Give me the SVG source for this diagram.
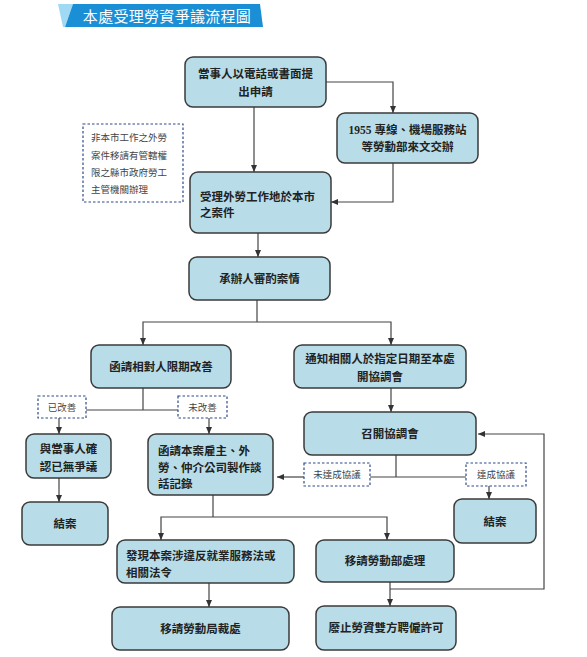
<svg xmlns="http://www.w3.org/2000/svg" width="587" height="657" viewBox="0 0 587 657">
<defs>
<marker id="ah" markerUnits="userSpaceOnUse" markerWidth="8" markerHeight="7" refX="7" refY="3" orient="auto">
<path d="M0,0 L7,3 L0,6 z" fill="#333"/>
</marker>
<style>
.n{fill:#b8dde8;stroke:#3a3a3a;stroke-width:1.5}
.t{font-family:"Noto Sans CJK TC","Noto Sans CJK SC",sans-serif;font-size:11.5px;font-weight:bold;fill:#222}
.c{text-anchor:middle}
.d{fill:#fff;stroke:#2d4a8a;stroke-width:1.2;stroke-dasharray:2.5,2}
.s{font-family:"Noto Sans CJK TC","Noto Sans CJK SC",sans-serif;font-size:9.5px;fill:#444}
.k{fill:none;stroke:#444;stroke-width:1.2}
.a{marker-end:url(#ah)}
</style>
</defs>
<rect width="587" height="657" fill="#fff"/>
<g id="title">
<polygon points="58,4 73,4 65,27 63,27" fill="#9fd9f4"/>
<polygon points="73,4 260,4 263,27 65,27" fill="#1a8fd6"/>
<text x="167" y="21.5" text-anchor="middle" font-family="'Noto Sans CJK TC','Noto Sans CJK SC',sans-serif" font-size="15" fill="#fff" letter-spacing="0.3">本處受理勞資爭議流程圖</text>
</g>
<g id="connectors">
<polyline class="k a" points="326,82 393,82 393,113"/>
<polyline class="k a" points="254,107 254,172"/>
<polyline class="k a" points="393,163 393,202 331,202"/>
<polyline class="k a" points="258,233 258,257"/>
<polyline class="k" points="257,300 257,322"/>
<polyline class="k a" points="257,322 143,322 143,345"/>
<polyline class="k a" points="257,322 391,322 391,345"/>
<polyline class="k" points="143,388 143,410"/>
<polyline class="k" points="86,410 178,410"/>
<polyline class="k a" points="59,418 59,434"/>
<polyline class="k a" points="209,418 209,434"/>
<polyline class="k a" points="59,478 59,502"/>
<polyline class="k a" points="391,388 391,412"/>
<polyline class="k" points="396,455 396,477"/>
<polyline class="k" points="370,477 466,477"/>
<polyline class="k a" points="304,477 277,477"/>
<polyline class="k a" points="489,486 489,499"/>
<polyline class="k" points="213,495 213,517"/>
<polyline class="k a" points="213,517 161,517 161,540"/>
<polyline class="k a" points="213,517 387,517 387,540"/>
<polyline class="k a" points="209,583 209,607"/>
<polyline class="k a" points="390,582 390,606"/>
<polyline class="k a" points="390,589 544,589 544,434 478,434"/>
</g>
<g id="n1">
<rect class="n" x="185" y="57" width="141" height="50" rx="8"/>
<text class="t c" x="255.5" y="78">當事人以電話或書面提</text>
<text class="t c" x="255.5" y="96">出申請</text>
</g>
<g id="n2">
<rect class="n" x="337" y="113" width="141" height="50" rx="8"/>
<text class="t c" x="407.5" y="134"><tspan font-family="'Liberation Serif',serif">1955 </tspan>專線、機場服務站</text>
<text class="t c" x="407.5" y="151">等勞動部來文交辦</text>
</g>
<g id="note">
<rect class="d" x="83" y="124" width="100" height="78"/>
<text class="s" x="91" y="140.5">非本市工作之外勞</text>
<text class="s" x="91" y="158.5">案件移請有管轄權</text>
<text class="s" x="91" y="176">限之縣市政府勞工</text>
<text class="s" x="91" y="193">主管機關辦理</text>
</g>
<g id="n3">
<rect class="n" x="190" y="172" width="141" height="61" rx="8"/>
<text class="t" x="200" y="200.5">受理外勞工作地於本市</text>
<text class="t" x="200" y="217">之案件</text>
</g>
<g id="n4">
<rect class="n" x="189" y="257" width="141" height="43" rx="8"/>
<text class="t c" x="259.5" y="283">承辦人審酌案情</text>
</g>
<g id="n5">
<rect class="n" x="91" y="345" width="140" height="43" rx="8"/>
<text class="t c" x="161" y="371">函請相對人限期改善</text>
</g>
<g id="n6">
<rect class="n" x="294" y="345" width="172" height="43" rx="8"/>
<text class="t c" x="380" y="363">通知相關人於指定日期至本處</text>
<text class="t c" x="380" y="381">開協調會</text>
</g>
<g id="lbl1">
<rect class="d" x="38" y="396" width="48" height="22"/>
<text class="s c" x="62" y="410.5">已改善</text>
</g>
<g id="lbl2">
<rect class="d" x="178" y="396" width="49" height="22"/>
<text class="s c" x="202.5" y="410.5">未改善</text>
</g>
<g id="n7">
<rect class="n" x="26" y="434" width="85" height="44" rx="8"/>
<text class="t c" x="68.5" y="453">與當事人確</text>
<text class="t c" x="68.5" y="471">認已無爭議</text>
</g>
<g id="n8">
<rect class="n" x="22" y="502" width="86" height="43" rx="8"/>
<text class="t c" x="65" y="528">結案</text>
</g>
<g id="n9">
<rect class="n" x="148" y="434" width="125" height="61" rx="8"/>
<text class="t" x="158" y="455">函請本案雇主、外</text>
<text class="t" x="158" y="471.5">勞、仲介公司製作談</text>
<text class="t" x="158" y="488">話記錄</text>
</g>
<g id="n10">
<rect class="n" x="304" y="412" width="172" height="43" rx="8"/>
<text class="t c" x="390" y="437.5">召開協調會</text>
</g>
<g id="lbl3">
<rect class="d" x="304" y="463" width="66" height="23"/>
<text class="s c" x="337" y="478">未達成協議</text>
</g>
<g id="lbl4">
<rect class="d" x="466" y="463" width="60" height="23"/>
<text class="s c" x="496" y="478">達成協議</text>
</g>
<g id="n11">
<rect class="n" x="454" y="499" width="82" height="44" rx="8"/>
<text class="t c" x="495" y="526">結案</text>
</g>
<g id="n12">
<rect class="n" x="117" y="540" width="177" height="43" rx="8"/>
<text class="t" x="126" y="560">發現本案涉違反就業服務法或</text>
<text class="t" x="126" y="577">相關法令</text>
</g>
<g id="n13">
<rect class="n" x="316" y="540" width="138" height="42" rx="8"/>
<text class="t c" x="385" y="565">移請勞動部處理</text>
</g>
<g id="n14">
<rect class="n" x="112" y="607" width="177" height="43" rx="8"/>
<text class="t c" x="200.5" y="633">移請勞動局裁處</text>
</g>
<g id="n15">
<rect class="n" x="316" y="606" width="140" height="44" rx="8"/>
<text class="t c" x="386" y="632">廢止勞資雙方聘僱許可</text>
</g>
</svg>
